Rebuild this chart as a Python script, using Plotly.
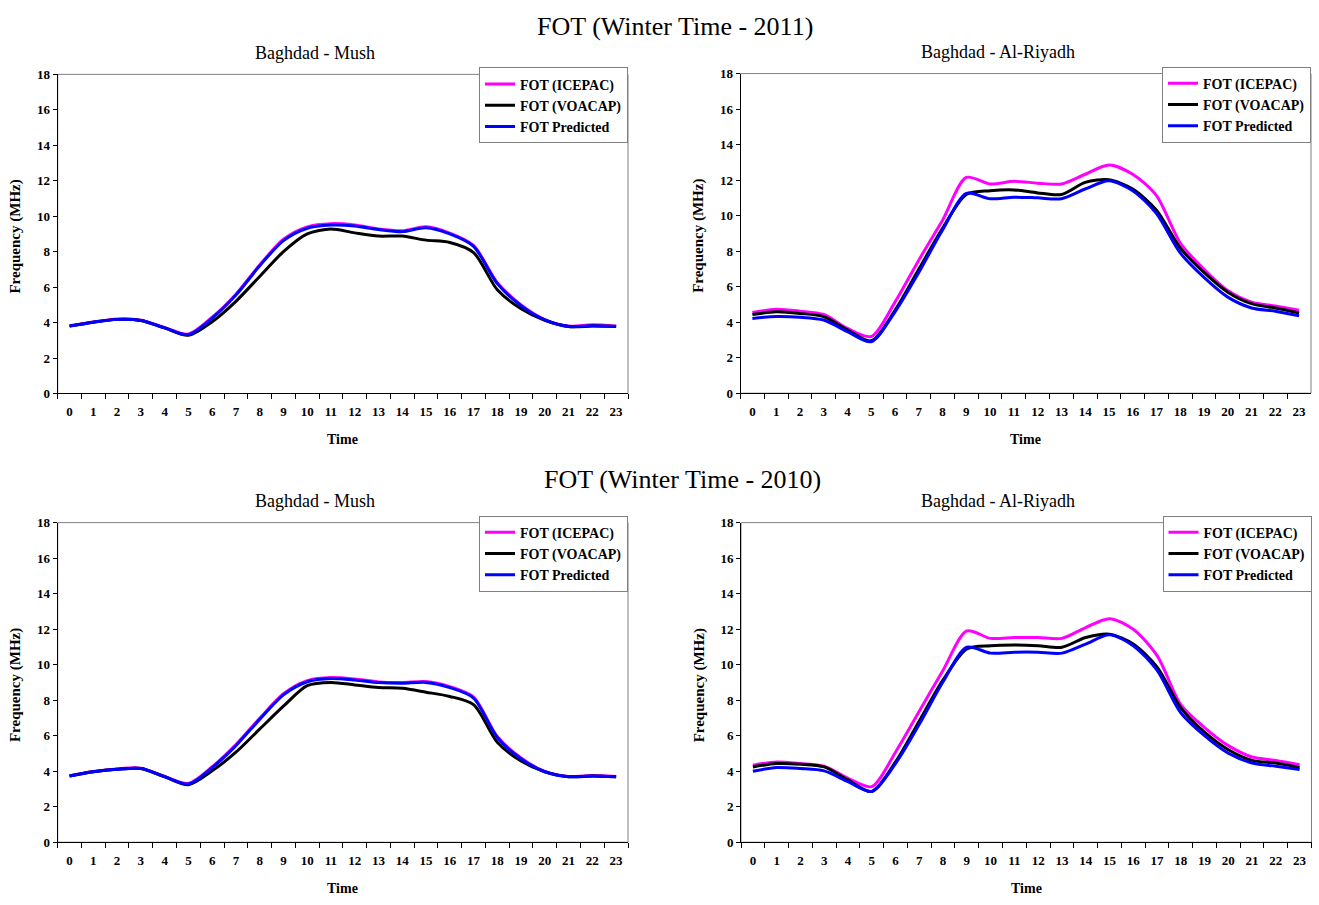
import plotly.graph_objects as go

# Hours of the day (category axis)
hours = [str(h) for h in range(24)]
y_ticks = list(range(0, 19, 2))

# FOT (MHz) - Winter 2011, Baghdad - Mush
mush_2011_icepac = [3.82, 4.03, 4.20, 4.13, 3.72, 3.35, 4.30, 5.60, 7.25, 8.70, 9.40, 9.58, 9.50, 9.28, 9.18, 9.40, 9.05, 8.35, 6.25, 5.00, 4.17, 3.80, 3.87, 3.80]
mush_2011_voacap = [3.80, 4.02, 4.18, 4.12, 3.70, 3.28, 4.05, 5.20, 6.60, 8.00, 9.00, 9.28, 9.06, 8.88, 8.88, 8.65, 8.52, 7.95, 5.85, 4.78, 4.13, 3.78, 3.80, 3.78]
mush_2011_pred = [3.80, 4.02, 4.18, 4.12, 3.70, 3.32, 4.25, 5.55, 7.20, 8.62, 9.32, 9.50, 9.45, 9.25, 9.13, 9.35, 9.00, 8.30, 6.20, 4.95, 4.15, 3.78, 3.82, 3.78]

# FOT (MHz) - Winter 2011, Baghdad - Al-Riyadh
riy_2011_icepac = [4.54, 4.73, 4.62, 4.43, 3.65, 3.19, 5.13, 7.49, 9.74, 12.15, 11.78, 11.93, 11.83, 11.78, 12.33, 12.85, 12.33, 11.13, 8.46, 6.98, 5.78, 5.13, 4.91, 4.67]
riy_2011_voacap = [4.43, 4.58, 4.49, 4.31, 3.57, 2.95, 4.67, 6.98, 9.29, 11.19, 11.40, 11.45, 11.28, 11.19, 11.87, 12.02, 11.50, 10.30, 8.18, 6.80, 5.69, 5.04, 4.80, 4.52]
riy_2011_pred = [4.21, 4.32, 4.28, 4.12, 3.47, 2.90, 4.58, 6.80, 9.19, 11.25, 10.95, 11.04, 11.00, 10.95, 11.50, 11.96, 11.40, 10.12, 7.90, 6.52, 5.41, 4.80, 4.62, 4.36]

# FOT (MHz) - Winter 2010, Baghdad - Mush
mush_2010_icepac = [3.75, 3.98, 4.13, 4.17, 3.71, 3.31, 4.25, 5.50, 6.98, 8.36, 9.10, 9.27, 9.19, 9.03, 9.00, 9.05, 8.76, 8.17, 5.95, 4.74, 3.99, 3.70, 3.76, 3.70]
mush_2010_voacap = [3.73, 3.97, 4.11, 4.15, 3.69, 3.24, 4.02, 5.07, 6.37, 7.66, 8.82, 9.00, 8.86, 8.71, 8.67, 8.45, 8.21, 7.75, 5.63, 4.57, 3.96, 3.69, 3.73, 3.69]
mush_2010_pred = [3.73, 3.97, 4.11, 4.15, 3.69, 3.28, 4.20, 5.44, 6.92, 8.30, 9.04, 9.22, 9.14, 8.99, 8.95, 9.00, 8.71, 8.12, 5.90, 4.70, 3.97, 3.69, 3.73, 3.69]

# FOT (MHz) - Winter 2010, Baghdad - Al-Riyadh
riy_2010_icepac = [4.34, 4.52, 4.43, 4.28, 3.60, 3.13, 5.07, 7.38, 9.69, 11.90, 11.48, 11.53, 11.53, 11.48, 12.09, 12.59, 11.99, 10.52, 7.75, 6.46, 5.44, 4.80, 4.61, 4.37]
riy_2010_voacap = [4.24, 4.43, 4.39, 4.24, 3.51, 2.86, 4.52, 6.83, 9.14, 10.89, 11.07, 11.11, 11.07, 10.98, 11.53, 11.72, 11.16, 9.87, 7.57, 6.20, 5.21, 4.61, 4.46, 4.21]
riy_2010_pred = [4.00, 4.21, 4.15, 4.02, 3.41, 2.86, 4.43, 6.64, 9.04, 10.98, 10.65, 10.70, 10.70, 10.65, 11.16, 11.68, 11.07, 9.69, 7.29, 6.00, 5.01, 4.46, 4.28, 4.10]

series_names = ["FOT (ICEPAC)", "FOT (VOACAP)", "FOT Predicted"]
series_colors = ["#FF00FF", "#000000", "#0000FF"]

W, H = 1319, 905
FONT = "Liberation Serif, Times New Roman, serif"

# panel plot areas in pixels: (left, right, top, bottom)
panels = [
    dict(box=(57.7, 628, 68.5, 393), data=[mush_2011_icepac, mush_2011_voacap, mush_2011_pred], sub="Baghdad - Mush"),
    dict(box=(740.5, 1311, 67.7, 392.7), data=[riy_2011_icepac, riy_2011_voacap, riy_2011_pred], sub="Baghdad - Al-Riyadh"),
    dict(box=(57.7, 628, 524.3, 849.3), data=[mush_2010_icepac, mush_2010_voacap, mush_2010_pred], sub="Baghdad - Mush"),
    dict(box=(741, 1311.5, 524.3, 849.3), data=[riy_2010_icepac, riy_2010_voacap, riy_2010_pred], sub="Baghdad - Al-Riyadh"),
]

fig = go.Figure()
layout = dict(
    width=W, height=H,
    margin=dict(l=0, r=0, t=0, b=0),
    paper_bgcolor="white", plot_bgcolor="white",
    font=dict(family=FONT, color="black"),
    showlegend=True,
    annotations=[], shapes=[],
)


def px_x(v):
    return v / W


def px_y(v):
    return 1 - v / H


for i, p in enumerate(panels):
    n = "" if i == 0 else str(i + 1)
    xa, ya = "x" + n, "y" + n
    leg = "legend" + n
    l, r, t, b = p["box"]
    for name, color, vals in zip(series_names, series_colors, p["data"]):
        fig.add_trace(go.Scatter(
            x=hours, y=vals, name=name, mode="lines",
            line=dict(color=color, width=3, shape="spline", smoothing=0.8),
            xaxis=xa, yaxis=ya, legend=leg, showlegend=True,
        ))
    layout["xaxis" + n] = dict(
        domain=[px_x(l), px_x(r)], anchor=ya, type="category",
        categoryorder="array", categoryarray=hours,
        range=[-0.5, 23.5], tickson="boundaries",
        ticks="outside", ticklen=5, tickcolor="black", tickwidth=1,
        showline=True, linecolor="black", linewidth=1,
        showgrid=False, zeroline=False, ticklabelstandoff=6,
        tickfont=dict(family=FONT, size=13, color="black", weight="bold"),
    )
    layout["yaxis" + n] = dict(
        domain=[px_y(b), px_y(t)], anchor=xa,
        range=[0, 18], tickvals=y_ticks,
        ticks="outside", ticklen=4, tickcolor="black", tickwidth=1,
        showline=True, linecolor="black", linewidth=1,
        showgrid=False, zeroline=False, ticklabelstandoff=0,
        tickfont=dict(family=FONT, size=13, color="black", weight="bold"),
    )
    layout[leg] = dict(
        x=px_x(r), y=px_y(t - 7), xanchor="right", yanchor="top",
        xref="paper", yref="paper",
        bgcolor="white", bordercolor="#808080", borderwidth=1,
        font=dict(family=FONT, size=14, color="black", weight="bold"),
        tracegroupgap=0, itemwidth=30,
    )
    # grey plot-area frame (top/right edges)
    layout["shapes"].append(dict(
        type="rect", xref=xa + " domain", yref=ya + " domain",
        x0=0, x1=1, y0=0, y1=1, layer="below",
        line=dict(color="#808080", width=1),
    ))
    cx = (l + r) / 2
    # panel subtitle
    layout["annotations"].append(dict(
        text=p["sub"], x=px_x(cx - 28), y=px_y(t - 22),
        xref="paper", yref="paper", xanchor="center", yanchor="middle",
        showarrow=False, font=dict(family=FONT, size=18, color="black"),
    ))
    # x-axis title
    layout["annotations"].append(dict(
        text="<b>Time</b>", x=px_x(cx), y=px_y(b + 47),
        xref="paper", yref="paper", xanchor="center", yanchor="middle",
        showarrow=False, font=dict(family=FONT, size=14, color="black"),
    ))
    # y-axis title
    layout["annotations"].append(dict(
        text="<b>Frequency (MHz)</b>", x=px_x(l - 42), y=px_y((t + b) / 2 + 3),
        xref="paper", yref="paper", xanchor="center", yanchor="middle",
        textangle=-90, showarrow=False,
        font=dict(family=FONT, size=15, color="black"),
    ))

# figure headings for each season row
for text, cx, cy in [("FOT (Winter Time - 2011)", 675, 20), ("FOT (Winter Time - 2010)", 683, 480)]:
    layout["annotations"].append(dict(
        text=text, x=px_x(cx), y=px_y(cy), xref="paper", yref="paper",
        xanchor="center", yanchor="middle", showarrow=False,
        font=dict(family=FONT, size=26, color="black"),
    ))

fig.update_layout(**layout)
fig.write_html("out.html")
